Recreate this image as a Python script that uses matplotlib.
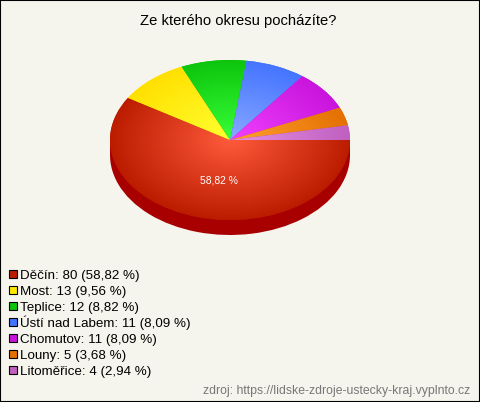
"""
Ze kterého okresu pocházíte? - koláčový graf
"""
import numpy as np
import matplotlib.pyplot as plt
from matplotlib.patches import Rectangle

okresy = ['Děčín', 'Most', 'Teplice', 'Ústí nad Labem', 'Chomutov', 'Louny', 'Litoměřice']
pocty = [80, 13, 12, 11, 11, 5, 4]
procenta = ['58,82', '9,56', '8,82', '8,09', '8,09', '3,68', '2,94']

barvy_stred = ['#ff5a3c', '#ffff30', '#38ff38', '#88a8ff', '#f040ff', '#ffa030', '#e490e4']
barvy_okraj = ['#bb1c00', '#ffe000', '#0cc40c', '#4474ff', '#c814dc', '#e47000', '#c060c0']
barvy_legenda = ['#bb1c00', '#ffe800', '#0cc40c', '#4474ff', '#c814dc', '#e47000', '#c060c0']
barva_bok = '#a80000'
POZADI = '#f5f5ed'

W, H = 480, 402
plt.rcParams['font.family'] = ['Liberation Sans', 'DejaVu Sans']

# +0.01 px, jinak se 4.02 * 100 zaokrouhli dolu na 401
fig = plt.figure(figsize=((W + 0.01) / 100, (H + 0.01) / 100), dpi=100, facecolor=POZADI)

# elipsa: stred (230, 140), poloosy 120 x 80 px
CX, CY, RX, RY, HLOUBKA = 230, 140, 120, 80, 15
ax = fig.add_axes([(CX - RX) / W, 1 - (CY + RY + HLOUBKA) / H, 2 * RX / W, (2 * RY + HLOUBKA) / H])

# bok kolace
posun = -HLOUBKA / RY
ax.pie(pocty, radius=1, center=(0, posun), startangle=0, counterclock=False,
       colors=[barva_bok] * len(pocty))
ax.add_patch(Rectangle((-1, posun), 2, -posun, color=barva_bok, lw=0))

# horni plocha, kazda vysec ma radialni prechod
wedges, _ = ax.pie(pocty, radius=1, startangle=0, counterclock=False, colors=barvy_okraj)
xx, yy = np.meshgrid(np.linspace(-1, 1, 481), np.linspace(-1, 1, 321))
r = np.clip(np.hypot(xx, yy), 0, 1)[..., None]
for w, c0, c1 in zip(wedges, barvy_stred, barvy_okraj):
    a = np.array(plt.matplotlib.colors.to_rgb(c0))
    b = np.array(plt.matplotlib.colors.to_rgb(c1))
    im = ax.imshow(a + (b - a) * r, extent=(-1, 1, -1, 1), origin='lower',
                   aspect='auto', zorder=3, interpolation='bilinear')
    im.set_clip_path(w)

ax.set_aspect('auto')
ax.set_xlim(-1, 1)
ax.set_ylim(posun - 1, 1)
ax.axis('off')

ax.text(-0.096, -0.5, procenta[0] + ' %', color='white', fontsize=7.4,
        ha='center', va='center', zorder=5)

fig.text(238 / W, 1 - 25 / H, 'Ze kterého okresu pocházíte?', fontsize=10.6,
         ha='center', va='baseline', color='black')

# legenda
for i, (nazev, n, p) in enumerate(zip(okresy, pocty, procenta)):
    y = 274 + 16 * i
    fig.add_artist(Rectangle((9 / W, 1 - (y + 4) / H), 8 / W, 8 / H, transform=fig.transFigure,
                             facecolor=barvy_legenda[i], edgecolor='black', lw=0.8))
    fig.text(20 / W, 1 - (y + 5) / H, f'{nazev}: {n} ({p} %)', fontsize=9.6,
             ha='left', va='baseline', color='black')

fig.text(470 / W, 1 - 394 / H, 'zdroj: https://lidske-zdroje-ustecky-kraj.vyplnto.cz',
         fontsize=8.8, ha='right', va='baseline', color='#777777')

# ramecek
fig.add_artist(Rectangle((0, 0), 1, 1, transform=fig.transFigure, fill=False,
                         edgecolor='black', lw=1.5))

fig.savefig('out.png', dpi=100, facecolor=POZADI)
